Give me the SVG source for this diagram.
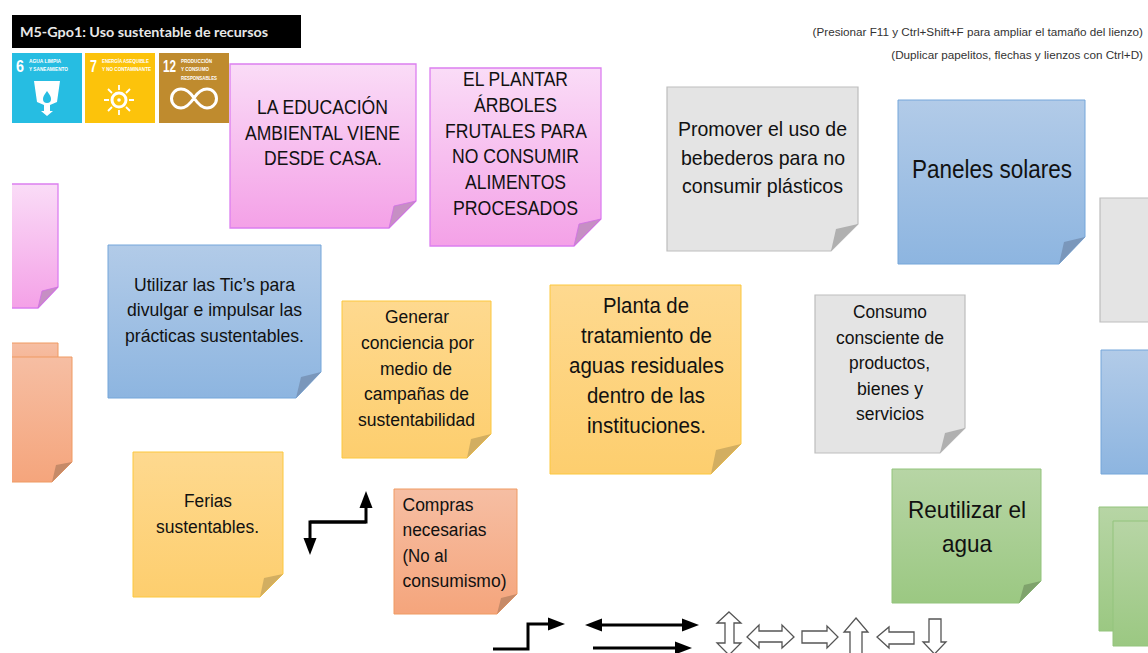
<svg xmlns="http://www.w3.org/2000/svg" width="1148" height="653" viewBox="0 0 1148 653">
<style>
text{font-family:"Liberation Sans",Arial,sans-serif;fill:#111;text-anchor:middle}
.pink{fill:url(#gPink);stroke:#dc7ff0;stroke-width:1.3}
.blue{fill:url(#gBlue);stroke:#74a6da;stroke-width:1}
.gray{fill:#e4e4e4;stroke:#bdbdbd;stroke-width:1.2}
.yellow{fill:url(#gYellow);stroke:#fcc83f;stroke-width:1}
.orange{fill:url(#gOrange);stroke:#ef9a63;stroke-width:1}
.green{fill:url(#gGreen);stroke:#93c47d;stroke-width:1}
.foldP{fill:#c68fc4;stroke:#cf6fe6;stroke-width:.8}
.foldB{fill:#7a97bb}
.foldG{fill:#b0b0b0}
.foldY{fill:#d2ae61}
.foldO{fill:#c68a68}
.foldN{fill:#7fa36c}
.conn{fill:none;stroke:#000;stroke-width:3}
.out{fill:#fff;stroke:#555;stroke-width:1.3}
.sdg{fill:#fff;font-family:"Liberation Sans",Arial,sans-serif;text-anchor:start;font-weight:700}
.iconl{fill:none;stroke:#fff}
</style>
<defs>
<linearGradient id="gPink" x1="0" y1="0" x2="0" y2="1"><stop offset="0" stop-color="#fadcf7"/><stop offset="1" stop-color="#f4a1e7"/></linearGradient>
<linearGradient id="gBlue" x1="0" y1="0" x2="0" y2="1"><stop offset="0" stop-color="#b2cbe8"/><stop offset="1" stop-color="#8db5e0"/></linearGradient>
<linearGradient id="gYellow" x1="0" y1="0" x2="0" y2="1"><stop offset="0" stop-color="#fed98f"/><stop offset="1" stop-color="#fdce6e"/></linearGradient>
<linearGradient id="gOrange" x1="0" y1="0" x2="0" y2="1"><stop offset="0" stop-color="#f6bea3"/><stop offset="1" stop-color="#f5a57c"/></linearGradient>
<linearGradient id="gGreen" x1="0" y1="0" x2="0" y2="1"><stop offset="0" stop-color="#b7d5a5"/><stop offset="1" stop-color="#9bc882"/></linearGradient>
<clipPath id="leftClip"><rect x="12" y="0" width="200" height="653"/></clipPath>
<marker id="head" markerUnits="userSpaceOnUse" markerWidth="18" markerHeight="14" refX="1" refY="7" orient="auto-start-reverse"><path d="M0 .5L17 7L0 13.5Z" fill="#000"/></marker>
</defs>

<g id="title">
<rect x="12" y="15" width="289" height="33" fill="#000"/>
<text x="20" y="37" textLength="248" lengthAdjust="spacingAndGlyphs" style="text-anchor:start;fill:#e8e8e8;font-family:Lato,sans-serif;font-weight:700;font-size:14px">M5-Gpo1: Uso sustentable de recursos</text>
</g>
<g id="hint">
<text x="1143" y="36" style="text-anchor:end;font-size:11.700px;fill:#333">(Presionar F11 y Ctrl+Shift+F para ampliar el tamaño del lienzo)</text>
<text x="1143" y="59" style="text-anchor:end;font-size:11.700px;fill:#333">(Duplicar papelitos, flechas y lienzos con Ctrl+D)</text>
</g>

<g id="sdg6">
<rect x="12" y="53" width="70" height="70" fill="#26bde2"/>
<text class="sdg" x="16" y="72" textLength="8" lengthAdjust="spacingAndGlyphs" style="font-size:17px">6</text>
<text class="sdg" x="29" y="63" textLength="32" lengthAdjust="spacingAndGlyphs" style="font-size:5.500px">AGUA LIMPIA</text>
<text class="sdg" x="29" y="71" textLength="39" lengthAdjust="spacingAndGlyphs" style="font-size:5.500px">Y SANEAMIENTO</text>
<path d="M34 81H60L57 102L50 105V111L53 111L47 116L41 111L44 111V105L37 102Z" fill="#fff"/>
<path d="M47 91C44 95 43 97 43 99A4 4 0 0 0 51 99C51 97 50 95 47 91Z" fill="#26bde2"/>
</g>
<g id="sdg7">
<rect x="85" y="53" width="70" height="70" fill="#fcc30b"/>
<text class="sdg" x="90" y="72" textLength="7" lengthAdjust="spacingAndGlyphs" style="font-size:17px">7</text>
<text class="sdg" x="102" y="63" textLength="47" lengthAdjust="spacingAndGlyphs" style="font-size:5.500px">ENERGÍA ASEQUIBLE</text>
<text class="sdg" x="102" y="71" textLength="49" lengthAdjust="spacingAndGlyphs" style="font-size:5.500px">Y NO CONTAMINANTE</text>
<circle cx="119" cy="100" r="7" class="iconl" stroke-width="3"/>
<circle cx="119" cy="100" r="1.800" fill="#fff"/>
<path class="iconl" stroke-width="1.800" d="M119 85V90M119 110V115M104 100H109M129 100H134M108 89L112 93M126 107L130 111M130 89L126 93M112 107L108 111"/>
</g>
<g id="sdg12">
<rect x="159" y="53" width="70" height="70" fill="#bf8b2e"/>
<text class="sdg" x="163" y="72" textLength="13" lengthAdjust="spacingAndGlyphs" style="font-size:17px">12</text>
<text class="sdg" x="181" y="63" textLength="31" lengthAdjust="spacingAndGlyphs" style="font-size:5.500px">PRODUCCIÓN</text>
<text class="sdg" x="181" y="71" textLength="28" lengthAdjust="spacingAndGlyphs" style="font-size:5.500px">Y CONSUMO</text>
<text class="sdg" x="181" y="80" textLength="36" lengthAdjust="spacingAndGlyphs" style="font-size:5.500px">RESPONSABLES</text>
<path class="iconl" stroke-width="3" d="M194 98C190 92 186 89 181 89A9.500 9.500 0 0 0 181 108C186 108 190 104 194 98C198 92 202 89 207 89A9.500 9.500 0 0 1 207 108C202 108 198 104 194 98"/>
</g>

<g id="note-pink-left" clip-path="url(#leftClip)">
<path class="pink" d="M4 184H58V287L38 308H4Z"/>
<path class="foldP" d="M38 308L42 291L58 287Z"/>
</g>
<g id="note-orange-left-back" clip-path="url(#leftClip)">
<path class="orange" d="M4 343H58V400H4Z"/>
</g>
<g id="note-orange-left" clip-path="url(#leftClip)">
<path class="orange" d="M4 357H72V462L52 482H4Z"/>
<path class="foldO" d="M52 482L56 465L72 462Z"/>
</g>

<g id="note-educacion">
<path class="pink" d="M230 64H416V201L389 228H230Z"/>
<path class="foldP" d="M389 228L394 206L416 201Z"/>
<text x="322.500" y="114" font-size="20" textLength="131" lengthAdjust="spacingAndGlyphs">LA EDUCACIÓN</text>
<text x="322.500" y="139.500" font-size="20" textLength="155" lengthAdjust="spacingAndGlyphs">AMBIENTAL VIENE</text>
<text x="323" y="165" font-size="20" textLength="118" lengthAdjust="spacingAndGlyphs">DESDE CASA.</text>
</g>
<g id="note-plantar">
<path class="pink" d="M430 68H601V219L574 246H430Z"/>
<path class="foldP" d="M574 246L579 224L601 219Z"/>
<text x="515.500" y="86" font-size="20" textLength="105" lengthAdjust="spacingAndGlyphs">EL PLANTAR</text>
<text x="515.500" y="111.500" font-size="20" textLength="83" lengthAdjust="spacingAndGlyphs">ÁRBOLES</text>
<text x="516" y="137.500" font-size="20" textLength="142" lengthAdjust="spacingAndGlyphs">FRUTALES PARA</text>
<text x="515.500" y="163" font-size="20" textLength="127" lengthAdjust="spacingAndGlyphs">NO CONSUMIR</text>
<text x="515.500" y="189" font-size="20" textLength="101" lengthAdjust="spacingAndGlyphs">ALIMENTOS</text>
<text x="515.500" y="215" font-size="20" textLength="125" lengthAdjust="spacingAndGlyphs">PROCESADOS</text>
</g>
<g id="note-bebederos">
<path class="gray" d="M667 87H858V224L831 251H667Z"/>
<path class="foldG" d="M831 251L836 229L858 224Z"/>
<text x="762.500" y="135.500" font-size="21" textLength="169" lengthAdjust="spacingAndGlyphs">Promover el uso de</text>
<text x="763" y="164.500" font-size="21" textLength="164" lengthAdjust="spacingAndGlyphs">bebederos para no</text>
<text x="762.500" y="193" font-size="21" textLength="161" lengthAdjust="spacingAndGlyphs">consumir plásticos</text>
</g>
<g id="note-paneles">
<path class="blue" d="M898 100H1085V237L1059 264H898Z"/>
<path class="foldB" d="M1059 264L1064 242L1085 237Z"/>
<text x="992" y="178" font-size="26" textLength="160" lengthAdjust="spacingAndGlyphs">Paneles solares</text>
</g>
<g id="note-gray-right">
<path class="gray" d="M1100 198H1150V322H1100Z"/>
</g>
<g id="note-tics">
<path class="blue" d="M108 245H321V372L296 398H108Z"/>
<path class="foldB" d="M296 398L301 377L321 372Z"/>
<text x="214.500" y="291" font-size="19" textLength="161" lengthAdjust="spacingAndGlyphs">Utilizar las Tic’s para</text>
<text x="214.500" y="316" font-size="19" textLength="175" lengthAdjust="spacingAndGlyphs">divulgar e impulsar las</text>
<text x="214.500" y="341.500" font-size="19" textLength="179" lengthAdjust="spacingAndGlyphs">prácticas sustentables.</text>
</g>
<g id="note-generar">
<path class="yellow" d="M342 301H491V434L467 458H342Z"/>
<path class="foldY" d="M467 458L471 439L491 434Z"/>
<text x="417" y="323" font-size="18" textLength="64" lengthAdjust="spacingAndGlyphs">Generar</text>
<text x="417.500" y="349" font-size="18" textLength="113" lengthAdjust="spacingAndGlyphs">conciencia por</text>
<text x="416" y="375" font-size="18" textLength="72" lengthAdjust="spacingAndGlyphs">medio de</text>
<text x="416.500" y="400" font-size="18" textLength="105" lengthAdjust="spacingAndGlyphs">campañas de</text>
<text x="416.500" y="426" font-size="18" textLength="117" lengthAdjust="spacingAndGlyphs">sustentabilidad</text>
</g>
<g id="note-planta">
<path class="yellow" d="M550 285H741V444L711 474H550Z"/>
<path class="foldY" d="M711 474L716 450L741 444Z"/>
<text x="646" y="313" font-size="22" textLength="86" lengthAdjust="spacingAndGlyphs">Planta de</text>
<text x="646.500" y="343" font-size="22" textLength="131" lengthAdjust="spacingAndGlyphs">tratamiento de</text>
<text x="646.500" y="373" font-size="22" textLength="155" lengthAdjust="spacingAndGlyphs">aguas residuales</text>
<text x="646" y="403" font-size="22" textLength="118" lengthAdjust="spacingAndGlyphs">dentro de las</text>
<text x="646.500" y="433" font-size="22" textLength="119" lengthAdjust="spacingAndGlyphs">instituciones.</text>
</g>
<g id="note-consumo">
<path class="gray" d="M815 295H965V428L940 453H815Z"/>
<path class="foldG" d="M940 453L945 433L965 428Z"/>
<text x="890" y="317.500" font-size="18" textLength="74" lengthAdjust="spacingAndGlyphs">Consumo</text>
<text x="890" y="343.500" font-size="18" textLength="108" lengthAdjust="spacingAndGlyphs">consciente de</text>
<text x="889.500" y="369" font-size="18" textLength="81" lengthAdjust="spacingAndGlyphs">productos,</text>
<text x="890" y="395" font-size="18" textLength="66" lengthAdjust="spacingAndGlyphs">bienes y</text>
<text x="890" y="420" font-size="18" textLength="68" lengthAdjust="spacingAndGlyphs">servicios</text>
</g>
<g id="note-blue-right">
<path class="blue" d="M1101 350H1150V474H1101Z"/>
</g>
<g id="note-ferias">
<path class="yellow" d="M133 452H283V574L260 597H133Z"/>
<path class="foldY" d="M260 597L264 578L283 574Z"/>
<text x="208" y="507" font-size="18" textLength="48" lengthAdjust="spacingAndGlyphs">Ferias</text>
<text x="207.500" y="533" font-size="18" textLength="103" lengthAdjust="spacingAndGlyphs">sustentables.</text>
</g>
<g id="note-compras">
<path class="orange" d="M394 489H517V594L497 614H394Z"/>
<path class="foldO" d="M497 614L501 598L517 594Z"/>
<text x="402.500" y="510.500" font-size="18" textLength="71" lengthAdjust="spacingAndGlyphs" style="text-anchor:start">Compras</text>
<text x="402.500" y="536" font-size="18" textLength="84" lengthAdjust="spacingAndGlyphs" style="text-anchor:start">necesarias</text>
<text x="402.500" y="561.500" font-size="18" textLength="45" lengthAdjust="spacingAndGlyphs" style="text-anchor:start">(No al</text>
<text x="402.500" y="587" font-size="18" textLength="104" lengthAdjust="spacingAndGlyphs" style="text-anchor:start">consumismo)</text>
</g>
<g id="note-reutilizar">
<path class="green" d="M892 469H1041V581L1019 603H892Z"/>
<path class="foldN" d="M1019 603L1024 585L1041 581Z"/>
<text x="967" y="518" font-size="24" textLength="118" lengthAdjust="spacingAndGlyphs">Reutilizar el</text>
<text x="967" y="552" font-size="24" textLength="50" lengthAdjust="spacingAndGlyphs">agua</text>
</g>
<g id="note-green-right-back">
<path class="green" d="M1099 507H1150V631H1099Z"/>
</g>
<g id="note-green-right">
<path class="green" d="M1113 521H1150V646H1113Z"/>
</g>

<g id="connectors">
<path class="conn" d="M310 522H366V507" marker-end="url(#head)"/>
<path class="conn" d="M366 522H310V539" marker-end="url(#head)"/>
<path class="conn" d="M493 649H528V624H549" marker-end="url(#head)"/>
<path class="conn" d="M601 625H683" marker-start="url(#head)" marker-end="url(#head)"/>
<path class="conn" d="M593 648H676" marker-end="url(#head)"/>
</g>
<g id="block-arrows">
<path class="out" d="M729 612L741 623H734V643H741L729 655L717 643H725V623H717Z"/>
<path class="out" d="M747 637L759 625V631H782V625L794 637L782 648V642H759V648Z"/>
<path class="out" d="M802 631H827V626L838 637L827 648V643H802Z"/>
<path class="out" d="M856 618L868 632H862V656H850V632H844Z"/>
<path class="out" d="M877 637L889 627V632H914V644H889V648Z"/>
<path class="out" d="M929 619H941V642H946L934.500 654L923 642H929Z"/>
</g>
</svg>
